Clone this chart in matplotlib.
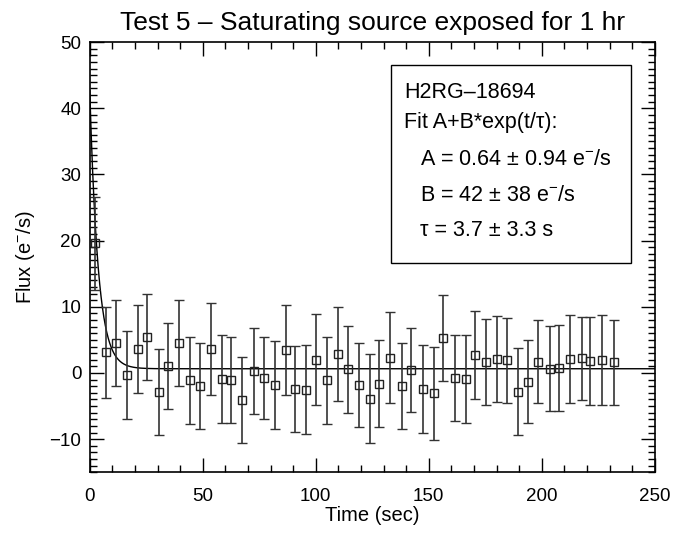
import numpy as np
import matplotlib
matplotlib.use("Agg")
import matplotlib.pyplot as plt
from matplotlib.ticker import MultipleLocator

plt.rcParams['font.family'] = ['Liberation Sans', 'DejaVu Sans']
plt.rcParams['mathtext.default'] = 'regular'

# data
time = [2.2, 7.4, 11.5, 16.5, 21.4, 25.5, 30.5, 34.6, 39.7, 44.5,
        48.7, 53.8, 58.7, 62.7, 67.4, 72.7, 77.0, 81.9, 86.9, 91.0,
        95.9, 100.0, 105.0, 110.0, 114.3, 119.0, 124.0, 128.0, 132.9, 138.2,
        142.3, 147.5, 152.4, 156.3, 161.4, 166.4, 170.4, 175.5, 180.4, 184.5,
        189.5, 193.7, 198.4, 203.5, 207.7, 212.5, 217.6, 221.5, 226.7, 231.9]
flux = [19.6, 3.1, 4.6, -0.3, 3.6, 5.5, -2.9, 1.0, 4.5, -1.1,
        -1.9, 3.6, -0.9, -1.0, -4.1, 0.35, -0.75, -1.8, 3.5, -2.4,
        -2.5, 2.0, -1.1, 2.9, 0.55, -1.8, -3.9, -1.6, 2.3, -1.9,
        0.45, -2.4, -3.1, 5.3, -0.7, -0.9, 2.7, 1.6, 2.1, 1.9,
        -2.8, -1.3, 1.7, 0.65, 0.75, 2.1, 2.2, 1.8, 2.0, 1.6]
flux_err = [7.0, 6.9, 6.5, 6.6, 6.7, 6.5, 6.5, 6.5, 6.5, 6.6,
            6.5, 7.0, 6.7, 6.5, 6.5, 6.5, 6.2, 6.7, 6.8, 6.5,
            6.7, 6.9, 6.6, 7.1, 6.6, 6.4, 6.7, 6.6, 6.9, 6.5,
            6.4, 6.6, 7.1, 6.5, 6.5, 6.6, 6.6, 6.5, 6.5, 6.4,
            6.5, 6.3, 6.3, 6.4, 6.5, 6.7, 6.3, 6.6, 6.8, 6.4]

# fit parameters
A = 0.64
B = 42.0
tau = 3.7

fig = plt.figure(figsize=(6.75, 5.33), dpi=100)
ax = fig.add_axes([0.133, 0.114, 0.837, 0.807])

t_fit = np.linspace(0, 250, 2000)
ax.plot(t_fit, A + B * np.exp(-t_fit / tau), color='black', lw=1.0)

ax.errorbar(time, flux, yerr=flux_err, fmt='s', mfc='none', mec='#222222',
            ms=6, mew=1.0, ecolor='#333333', elinewidth=1.2, capsize=3.6,
            capthick=1.2)

ax.set_xlim(0, 250)
ax.set_ylim(-15, 50)
ax.xaxis.set_major_locator(MultipleLocator(50))
ax.xaxis.set_minor_locator(MultipleLocator(10))
ax.yaxis.set_major_locator(MultipleLocator(10))
ax.yaxis.set_minor_locator(MultipleLocator(1))
ax.tick_params(which='both', direction='in', top=True, right=True,
               labelsize=13.5, width=1.0)
ax.tick_params(which='major', length=10)
ax.tick_params(axis='x', which='major', pad=11)
ax.tick_params(axis='y', which='major', pad=6)
ax.tick_params(which='minor', length=5)
for s in ax.spines.values():
    s.set_linewidth(1.2)

ax.set_xlabel('Time (sec)', fontsize=14.5, labelpad=1)
ax.set_ylabel('Flux (e$^{-}$/s)', fontsize=14.5, labelpad=9)
ax.set_title('Test 5 \u2013 Saturating source exposed for 1 hr',
             fontsize=19, pad=9)

# fit box
box = plt.Rectangle((0.533, 0.486), 0.425, 0.461, transform=ax.transAxes,
                    fill=False, lw=1.0, ec='black', zorder=5)
ax.add_patch(box)
lines = [('H2RG\u201318694', 0.556, 0.884),
         ('Fit A+B*exp(t/\u03c4):', 0.556, 0.814),
         ('A = 0.64 \u00b1 0.94 e$^{-}$/s', 0.584, 0.726),
         ('B = 42 \u00b1 38 e$^{-}$/s', 0.584, 0.644),
         ('\u03c4 = 3.7 \u00b1 3.3 s', 0.584, 0.563)]
for txt, x, y in lines:
    ax.text(x, y, txt, transform=ax.transAxes, fontsize=15.5,
            ha='left', va='center')

fig.savefig('out.png', dpi=100)
